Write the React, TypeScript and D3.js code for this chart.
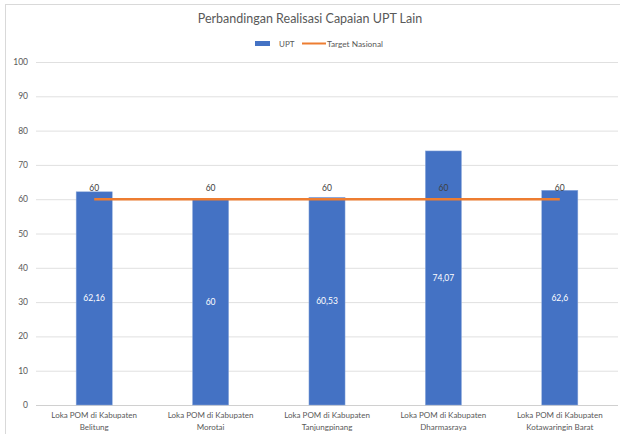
import React from "react";
import * as d3 from "d3";

const categories = [
  ["Loka POM di Kabupaten", "Belitung"],
  ["Loka POM di Kabupaten", "Morotai"],
  ["Loka POM di Kabupaten", "Tanjungpinang"],
  ["Loka POM di Kabupaten", "Dharmasraya"],
  ["Loka POM di Kabupaten", "Kotawaringin Barat"],
];
const uptValues = [62.16, 60, 60.53, 74.07, 62.6];
const uptLabels = ["62,16", "60", "60,53", "74,07", "62,6"];
const targetValues = [60, 60, 60, 60, 60];
const yTicks = [0, 10, 20, 30, 40, 50, 60, 70, 80, 90, 100];

const W = 620;
const H = 434;
const FONT = "Lato, 'Open Sans', sans-serif";

export default function App() {
  const keys = categories.map((c, i) => String(i));
  const x = d3.scaleBand().domain(keys).range([36, 618]).paddingInner(0.69).paddingOuter(0.345);
  const y = d3.scaleLinear().domain([0, 100]).range([405, 62]);
  const line = d3
    .line<number>()
    .x((_, i) => (x(keys[i]) as number) + x.bandwidth() / 2)
    .y((d) => y(d));

  return (
    <svg
      width={W}
      height={H}
      style={{ position: "absolute", left: 0, top: 0, background: "#fff" }}
      fontFamily={FONT}
    >
      <rect x={5.5} y={4.5} width={700} height={700} fill="#fff" stroke="#d9d9d9" />
      <text x={310} y={23} textAnchor="middle" fontSize={12.5} fill="#595959">
        Perbandingan Realisasi Capaian UPT Lain
      </text>
      {/* legend */}
      <rect x={255} y={41} width={15} height={5} fill="#4472c4" />
      <text x={279} y={46.5} fontSize={8} fill="#595959">UPT</text>
      <line x1={302} x2={326} y1={43.5} y2={43.5} stroke="#ed7d31" strokeWidth={2} />
      <text x={327} y={46.5} fontSize={8.3} fill="#595959">Target Nasional</text>

      {yTicks.map((t) => (
        <g key={t}>
          {t > 0 && (
            <line x1={36} x2={618} y1={y(t) + 0.5} y2={y(t) + 0.5} stroke="#e0e0e0" strokeWidth={1} />
          )}
          <text x={28} y={y(t) + 3} textAnchor="end" fontSize={8.5} fill="#595959">
            {t}
          </text>
        </g>
      ))}
      <line x1={36} x2={618} y1={y(0) + 0.5} y2={y(0) + 0.5} stroke="#d0d0d0" />

      {uptValues.map((v, i) => (
        <rect
          key={i}
          x={x(keys[i])}
          y={y(v)}
          width={x.bandwidth()}
          height={y(0) - y(v)}
          fill="#4472c4"
          stroke="#8eaadb"
          strokeWidth={0.5}
        />
      ))}
      {uptValues.map((v, i) => (
        <text
          key={i}
          x={(x(keys[i]) as number) + x.bandwidth() / 2}
          y={(y(v) + y(0)) / 2 + 3}
          textAnchor="middle"
          fontSize={8.5}
          fill="#ffffff"
        >
          {uptLabels[i]}
        </text>
      ))}

      <path d={line(targetValues) || ""} fill="none" stroke="#ed7d31" strokeWidth={2.5} />
      {targetValues.map((v, i) => (
        <text
          key={i}
          x={(x(keys[i]) as number) + x.bandwidth() / 2}
          y={y(v) - 8}
          textAnchor="middle"
          fontSize={8.5}
          fill="#404040"
        >
          {v}
        </text>
      ))}

      {categories.map((c, i) => (
        <text
          key={i}
          x={(x(keys[i]) as number) + x.bandwidth() / 2}
          textAnchor="middle"
          fontSize={8}
          fill="#595959"
        >
          <tspan x={(x(keys[i]) as number) + x.bandwidth() / 2} y={418}>{c[0]}</tspan>
          <tspan x={(x(keys[i]) as number) + x.bandwidth() / 2} y={430}>{c[1]}</tspan>
        </text>
      ))}
    </svg>
  );
}
